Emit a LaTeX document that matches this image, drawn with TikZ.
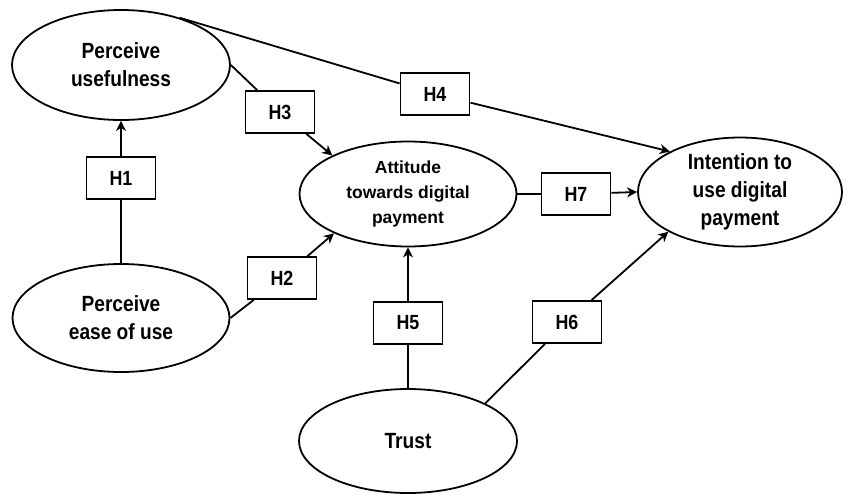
\documentclass[tikz,border=0pt]{standalone}
\usepackage{fontspec}
\setmainfont{Liberation Sans}[FakeStretch=0.87]
\newfontfamily\widefont{Liberation Sans}
\usetikzlibrary{shapes.geometric,arrows.meta}
\begin{document}
\begin{tikzpicture}[x=1pt,y=-1pt,line width=1.8pt,
    construct/.style={draw,ellipse,inner sep=0pt,align=center,
      font=\bfseries\fontsize{22}{28}\selectfont},
    hyp/.style={draw,rectangle,minimum width=69pt,minimum height=42pt,inner sep=0pt,
      font=\bfseries\fontsize{20.5}{24}\selectfont},
    path/.style={-{Stealth[length=10pt,width=10pt,inset=3pt]}}]
        \useasboundingbox (0,0) rectangle (846,493);
        \node[construct,minimum width=218pt,minimum height=110pt] (pu) at (121,65) {Perceive\\usefulness};
        \node[construct,minimum width=217pt,minimum height=108pt] (pe) at (121,318) {Perceive\\ease of use};
        \node[construct,minimum width=217pt,minimum height=105pt,
              font=\widefont\bfseries\fontsize{17.5}{25}\selectfont] (at) at (408,194) {Attitude\\towards digital\\payment};
        \node[construct,minimum width=204pt,minimum height=109pt] (iu) at (740,192) {Intention to\\use digital\\payment};
        \node[construct,minimum width=218pt,minimum height=104pt] (tr) at (408,441) {Trust};
        \node[hyp] (h1) at (121,178) {H1};
        \node[hyp] (h2) at (282,278) {H2};
        \node[hyp] (h3) at (280,112) {H3};
        \node[hyp] (h4) at (435,94) {H4};
        \node[hyp] (h5) at (408,323) {H5};
        \node[hyp] (h6) at (567,322) {H6};
        \node[hyp] (h7) at (576,194) {H7};
        \draw (pe.north) -- (h1);
        \draw[path] (h1) -- (pu.south);
        \draw (pe.east) -- (h2);
        \draw[path] (h2) -- (at.208);
        \draw (pu.east) -- (h3);
        \draw[path] (h3) -- (at.153);
        \draw (pu.39) -- (h4);
        \draw[path] (h4) -- (iu.150);
        \draw (tr.north) -- (h5);
        \draw[path] (h5) -- (at.south);
        \draw (tr.26) -- (h6);
        \draw[path] (h6) -- (iu.209);
        \draw (at.east) -- (h7);
        \draw[path] (h7) -- (iu.west);
      \end{tikzpicture}
\end{document}
